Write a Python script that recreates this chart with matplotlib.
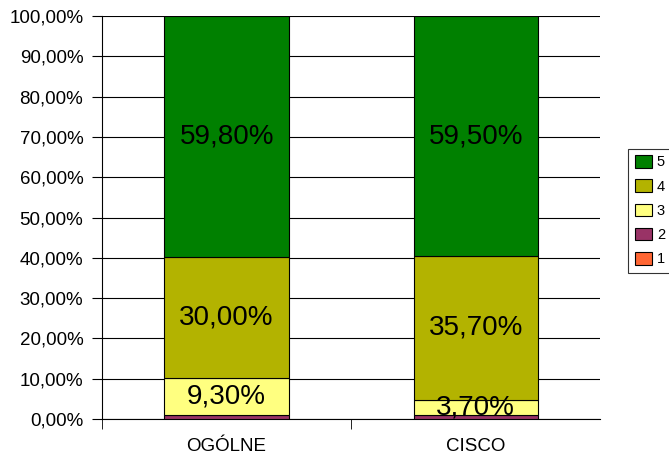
import matplotlib.pyplot as plt
import numpy as np

plt.rcParams['font.family'] = ['Liberation Sans', 'DejaVu Sans']

categories = ['OGÓLNE', 'CISCO']
series_names = ['1', '2', '3', '4', '5']
values = {
    '1': [0.0, 0.0],
    '2': [0.9, 1.1],
    '3': [9.3, 3.7],
    '4': [30.0, 35.7],
    '5': [59.8, 59.5],
}
labelled = ['3', '4', '5']
colors = {'1': '#FF6633', '2': '#993366', '3': '#FFFF80', '4': '#B3B300', '5': '#008000'}

fig = plt.figure(figsize=(6.69, 4.62), dpi=100)
ax = fig.add_axes([0.1525, 0.093, 0.745, 0.872])

x = np.arange(len(categories))
bottom = np.zeros(len(categories))
handles = {}
for name in series_names:
    v = np.array(values[name])
    bars = ax.bar(x, v, 0.5, bottom=bottom, color=colors[name],
                  edgecolor='black', linewidth=0.8, zorder=3)
    handles[name] = bars
    if name in labelled:
        for xi, vi, bi in zip(x, v, bottom):
            ax.text(xi, bi + vi / 2, f'{vi:.2f}%'.replace('.', ','),
                    ha='center', va='center', fontsize=20, zorder=4)
    bottom += v

ax.set_xlim(-0.5, 1.5)
ax.set_ylim(0, 100)
ax.set_yticks(np.arange(0, 101, 10))
ax.set_yticklabels([f'{t:.2f}%'.replace('.', ',') for t in np.arange(0, 101, 10)])
ax.yaxis.grid(True, color='black', linewidth=0.8, zorder=0)
ax.set_xticks(x)
ax.set_xticklabels(categories)
ax.set_xticks([-0.5, 0.5], minor=True)
ax.tick_params(axis='x', which='major', length=0, pad=14, labelsize=13.5)
ax.tick_params(axis='x', which='minor', length=7, direction='out')
ax.tick_params(axis='y', length=7, pad=6.5, direction='out', labelsize=13.5)
for s in ['top', 'right']:
    ax.spines[s].set_visible(False)

leg = ax.legend([handles[n] for n in reversed(series_names)], list(reversed(series_names)),
                loc='center left', bbox_to_anchor=(1.056, 0.517), frameon=True,
                fancybox=False, edgecolor='black', fontsize=10.5,
                handlelength=1.15, handleheight=0.95, labelspacing=0.68,
                borderpad=0.45, handletextpad=0.35, borderaxespad=0)
leg.get_frame().set_linewidth(0.8)

fig.savefig('out.png', dpi=100)
